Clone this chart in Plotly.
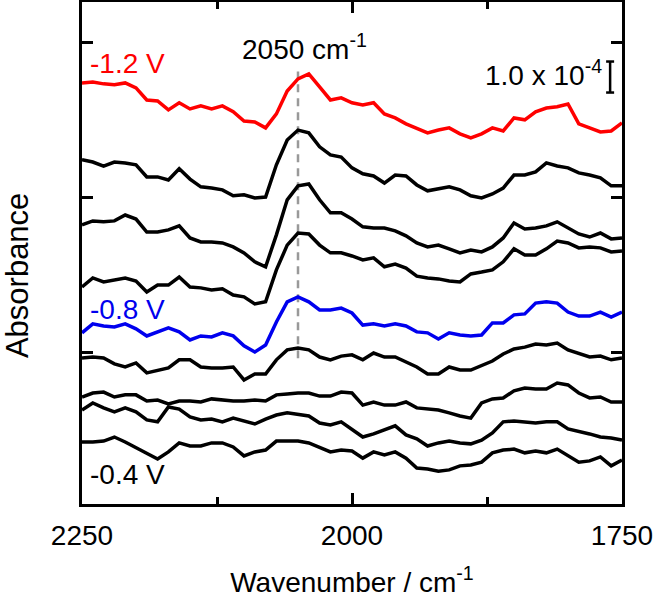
import plotly.graph_objects as go

# wavenumber grid (cm^-1), 10 cm^-1 sampling
wavenumber = list(range(2250, 1749, -10))

# stacked absorbance spectra, units of 1e-4 (offsets included), top to bottom
a_m12 = [13.58, 13.61, 13.55, 13.52, 13.58, 13.42, 13.03, 13.00, 12.71, 12.94, 12.74, 12.84, 12.74, 12.84, 12.65, 12.35, 12.32, 12.13, 12.58, 13.32, 13.71, 13.87, 13.45, 13.03, 13.10, 12.94, 12.87, 12.94, 12.58, 12.45, 12.26, 12.13, 11.97, 12.06, 12.13, 11.94, 11.81, 11.94, 12.13, 12.03, 12.45, 12.39, 12.65, 12.77, 12.81, 12.90, 12.26, 12.13, 12.00, 12.03, 12.29]
a_m11 = [11.10, 11.03, 10.90, 11.03, 11.00, 10.94, 10.55, 10.55, 10.45, 10.81, 10.48, 10.23, 10.19, 10.13, 9.94, 9.97, 9.87, 9.90, 10.94, 11.74, 12.06, 11.97, 11.52, 11.26, 11.19, 10.84, 10.65, 10.58, 10.35, 10.61, 10.58, 10.29, 10.10, 10.16, 10.23, 10.13, 9.94, 9.87, 10.00, 10.19, 10.61, 10.61, 10.71, 11.00, 10.90, 10.84, 10.68, 10.61, 10.52, 10.26, 10.26]
a_m10 = [9.00, 9.13, 9.10, 9.13, 9.32, 9.19, 8.77, 8.77, 8.84, 8.97, 8.58, 8.45, 8.45, 8.42, 8.29, 8.10, 7.81, 7.65, 8.68, 9.81, 10.26, 10.32, 9.81, 9.39, 9.39, 9.19, 8.94, 8.90, 8.90, 8.81, 8.65, 8.42, 8.29, 8.35, 8.23, 8.10, 8.19, 8.13, 8.29, 8.58, 9.06, 8.87, 8.90, 8.97, 9.10, 8.90, 8.71, 8.61, 8.74, 8.55, 8.58]
a_m09 = [7.00, 7.29, 7.16, 7.23, 7.29, 7.19, 6.84, 7.06, 7.06, 7.32, 7.00, 6.97, 6.90, 6.94, 6.74, 6.68, 6.45, 6.52, 7.55, 8.35, 8.74, 8.71, 8.35, 8.10, 8.10, 8.00, 7.87, 7.94, 7.65, 7.74, 7.61, 7.35, 7.29, 7.26, 7.19, 7.16, 7.42, 7.48, 7.55, 7.81, 8.23, 8.03, 8.03, 8.23, 8.48, 8.42, 8.26, 8.29, 8.26, 8.13, 8.16]
a_m08 = [5.52, 5.81, 5.74, 5.71, 5.81, 5.65, 5.42, 5.55, 5.68, 5.55, 5.29, 5.42, 5.39, 5.52, 5.42, 5.10, 4.90, 5.13, 5.87, 6.52, 6.68, 6.52, 6.26, 6.26, 6.32, 6.16, 5.77, 5.81, 5.74, 5.81, 5.74, 5.55, 5.52, 5.32, 5.52, 5.45, 5.42, 5.45, 5.84, 5.84, 6.10, 6.13, 6.48, 6.52, 6.48, 6.19, 6.06, 6.06, 6.19, 6.03, 6.19]
a_m07 = [4.71, 4.74, 4.71, 4.52, 4.42, 4.55, 4.23, 4.32, 4.39, 4.65, 4.65, 4.42, 4.39, 4.39, 4.42, 4.00, 4.19, 4.19, 4.65, 4.97, 5.03, 4.97, 4.74, 4.65, 4.77, 4.81, 4.65, 4.87, 4.74, 4.74, 4.58, 4.42, 4.19, 4.19, 4.42, 4.32, 4.32, 4.45, 4.61, 4.84, 5.00, 5.06, 5.16, 5.13, 5.19, 4.97, 4.84, 4.74, 4.77, 4.65, 4.71]
a_m06 = [3.45, 3.58, 3.61, 3.45, 3.52, 3.52, 3.32, 3.35, 3.23, 3.32, 3.32, 3.29, 3.39, 3.35, 3.32, 3.32, 3.35, 3.32, 3.52, 3.55, 3.58, 3.58, 3.48, 3.48, 3.61, 3.58, 3.19, 3.29, 3.19, 3.19, 3.29, 3.10, 3.06, 3.03, 2.94, 2.84, 2.77, 3.26, 3.39, 3.42, 3.65, 3.74, 3.71, 3.71, 3.90, 3.84, 3.58, 3.42, 3.45, 3.29, 3.29]
a_m05 = [3.03, 3.26, 3.10, 2.97, 3.10, 2.97, 2.71, 2.65, 3.13, 3.06, 2.81, 2.71, 2.74, 2.65, 2.77, 2.68, 2.58, 2.74, 2.87, 2.94, 2.90, 2.84, 2.61, 2.55, 2.65, 2.42, 2.16, 2.26, 2.39, 2.52, 2.23, 2.10, 1.87, 1.97, 2.03, 1.97, 1.94, 2.06, 2.29, 2.65, 2.68, 2.65, 2.61, 2.65, 2.65, 2.42, 2.35, 2.26, 2.16, 2.13, 2.06]
a_m04 = [2.00, 2.00, 2.03, 2.16, 2.00, 1.81, 1.65, 1.45, 1.68, 1.97, 1.87, 1.87, 1.97, 1.97, 1.84, 1.55, 1.68, 1.74, 2.03, 2.03, 2.03, 1.97, 1.81, 1.68, 1.74, 1.71, 1.48, 1.68, 1.58, 1.68, 1.48, 1.16, 1.13, 1.06, 1.10, 1.23, 1.26, 1.35, 1.65, 1.74, 1.77, 1.65, 1.71, 1.65, 1.77, 1.55, 1.35, 1.39, 1.52, 1.23, 1.42]

potentials = ["-1.2 V", "-1.1 V", "-1.0 V", "-0.9 V", "-0.8 V", "-0.7 V", "-0.6 V", "-0.5 V", "-0.4 V"]
spectra = [a_m12, a_m11, a_m10, a_m09, a_m08, a_m07, a_m06, a_m05, a_m04]
colors = ["#ff0000", "#000000", "#000000", "#000000", "#0000ee", "#000000", "#000000", "#000000", "#000000"]

x_ticks = [2250, 2000, 1750]
x_minor = [2125, 1875]
y_ticks = [4.9, 9.9, 14.9]
peak_wn = 2050

FONT = "Liberation Sans, Arial, sans-serif"
FS = 28

fig = go.Figure()
for name, ys, c in zip(potentials, spectra, colors):
    fig.add_trace(go.Scatter(x=wavenumber, y=ys, mode="lines", name=name,
                             line=dict(color=c, width=3.5), showlegend=False))

# dashed marker line at 2050 cm-1
fig.add_shape(type="line", x0=peak_wn, x1=peak_wn, y0=4.7, y1=13.95, xref="x", yref="y",
              line=dict(color="#999999", width=2.5, dash="8px,6px"), layer="below")
# scale bar 1.0e-4
bx = 1761
fig.add_shape(type="line", x0=bx, x1=bx, y0=13.27, y1=14.27, line=dict(color="black", width=2.5))
fig.add_shape(type="line", x0=bx + 3.7, x1=bx - 3.7, y0=13.27, y1=13.27, line=dict(color="black", width=2.5))
fig.add_shape(type="line", x0=bx + 3.7, x1=bx - 3.7, y0=14.27, y1=14.27, line=dict(color="black", width=2.5))

ann = [
    dict(x=2044, y=14.75, text="2050 cm<sup>-1</sup>", xanchor="center", yanchor="middle", font=dict(color="black")),
    dict(x=2244.5, y=14.2, text="-1.2 V", xanchor="left", yanchor="middle", font=dict(color="#ff0000")),
    dict(x=1766.5, y=13.9, text="1.0 x 10<sup>-4</sup>", xanchor="right", yanchor="middle", font=dict(color="black")),
    dict(x=2244.5, y=6.26, text="-0.8 V", xanchor="left", yanchor="middle", font=dict(color="#0000ee")),
    dict(x=2244.5, y=0.94, text="-0.4 V", xanchor="left", yanchor="middle", font=dict(color="black")),
]
for a in ann:
    a["font"].update(family=FONT, size=FS)
    fig.add_annotation(showarrow=False, xref="x", yref="y", **a)

fig.add_annotation(text="Absorbance", xref="paper", yref="paper", x=0, xshift=-65, y=0.454,
                   textangle=-90, showarrow=False, xanchor="center", yanchor="middle",
                   font=dict(family=FONT, size=31, color="black"))

fig.update_xaxes(range=[2250, 1750], tickvals=x_ticks, ticktext=[str(v) for v in x_ticks],
                 ticks="inside", ticklen=11, tickwidth=2.5, tickcolor="black",
                 showline=True, linewidth=3, linecolor="black", mirror="ticks",
                 showgrid=False, zeroline=False, ticklabelstandoff=4, automargin=False,
                 ticklabeloverflow="allow",
                 tickfont=dict(family=FONT, size=FS, color="black"),
                 minor=dict(tickvals=x_minor, ticks="inside", ticklen=7, tickwidth=2.5, tickcolor="black", showgrid=False),
                 title=dict(text="Wavenumber / cm<sup>-1</sup>", standoff=24,
                            font=dict(family=FONT, size=FS, color="black")))
fig.update_yaxes(range=[0, 16.19], tickvals=y_ticks, showticklabels=False,
                 ticks="inside", ticklen=11, tickwidth=2.5, tickcolor="black",
                 showline=True, linewidth=3, linecolor="black", mirror="ticks",
                 showgrid=False, zeroline=False, automargin=False)

fig.update_layout(width=654, height=598, autosize=False,
                  margin=dict(l=82, r=32, t=2, b=94),
                  plot_bgcolor="white", paper_bgcolor="white",
                  font=dict(family=FONT, size=FS, color="black"))

fig.write_html("out.html", config={"displayModeBar": False},
               post_script="document.body.style.margin='0';document.body.style.overflow='hidden';")
